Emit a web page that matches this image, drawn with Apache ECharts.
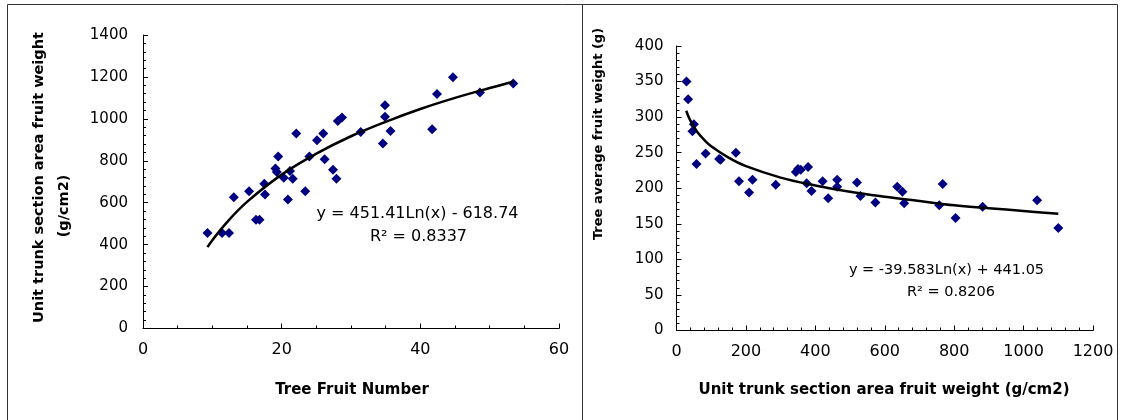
<!DOCTYPE html>
<html><head><meta charset="utf-8">
<script src="https://cdn.jsdelivr.net/npm/echarts@6/dist/echarts.min.js"></script>
<style>html,body{margin:0;padding:0;background:#fff}#c{width:1121px;height:420px}</style>
</head><body><div id="c"></div>
<script>
// Left chart: Tree Fruit Number vs unit trunk section area fruit weight
const leftX = [9.3,11.4,12.4,13.1,15.3,16.3,16.8,17.5,17.6,19.5,19.1,19.3,20.3,21.2,21.6,20.9,22.1,23.4,24.0,25.1,26.0,26.2,27.4,27.9,28.1,28.7,31.4,34.9,34.9,35.7,34.6,41.7,42.4,44.7,48.6,53.4];
const leftY = [455,455,455,626,655,519,519,690,639,821,763,746,719,751,714,615,930,655,821,898,930,807,757,714,990,1006,937,1065,1010,942,883,950,1118,1199,1126,1169];
const leftTrendX = [9.3,10,12,15,20,25,30,35,40,45,50,53.4];
const leftTrendY = [388,421,503,604,734,834,917,986,1047,1100,1147,1177];
// Right chart: unit trunk section area fruit weight vs tree average fruit weight
const rightX = [28.8,33.5,50,46,57.6,84,123,127,171,180,209,219,286,344,350,358,379,375,389,421,437,463,463,520,530,573,636,651,656,767,757,804,882,1039,1100];
const rightY = [350,325,290,280,234,249,241,240,250,210,194,212,205,223,227,226,230,207,196,210,186,212,202,208,189,180,202,195,179,206,176,158,174,183,144];
const rightTrendX = [28,40,60,80,100,150,200,300,400,500,600,700,800,900,1000,1100];
const rightTrendY = [309,295,279,268,259,243,231,215,204,195,188,182,176,172,168,164];

const leftXTitle = 'Tree Fruit Number';
const leftYTitle1 = 'Unit trunk section area fruit weight';
const leftYTitle2 = '(g/cm2)';
const rightXTitle = 'Unit trunk section area fruit weight (g/cm2)';
const rightYTitle = 'Tree average fruit weight (g)';
const leftEq = 'y = 451.41Ln(x) - 618.74';
const leftR2 = 'R² = 0.8337';
const rightEq = 'y = -39.583Ln(x) + 441.05';
const rightR2 = 'R² = 0.8206';

const FONT = 'DejaVu Sans';
const zip = (a, b) => a.map((v, i) => [v, b[i]]);

function axis(gridIndex, min, max, interval, minorSplit, fontSize, margin) {
  return {
    type: 'value', gridIndex, min, max, interval,
    axisLine: { show: true, onZero: false, lineStyle: { color: '#000', width: 1 } },
    axisTick: { show: true, inside: true, length: 5, lineStyle: { color: '#000' } },
    minorTick: { show: true, splitNumber: minorSplit, length: 3, lineStyle: { color: '#000' } },
    splitLine: { show: false },
    axisLabel: { color: '#000', fontFamily: FONT, fontSize, margin, formatter: v => String(v) }
  };
}

const titleStyle = (text, size) => ({ text, font: 'bold ' + size + 'px "' + FONT + '"', fill: '#000', textAlign: 'center', textVerticalAlign: 'middle' });
const plainStyle = (text, size) => ({ text, font: size + 'px "' + FONT + '"', fill: '#000', textAlign: 'center', textVerticalAlign: 'middle' });

const chart = echarts.init(document.getElementById('c'), null, { renderer: 'canvas' });
chart.setOption({
  backgroundColor: '#fff',
  animation: false,
  grid: [
    { left: 143, top: 35, width: 416, height: 293.5 },
    { left: 676.5, top: 46, width: 416.5, height: 284.5 }
  ],
  xAxis: [
    axis(0, 0, 60, 20, 4, 16, 13),
    axis(1, 0, 1200, 200, 5, 16, 13)
  ],
  yAxis: [
    axis(0, 0, 1400, 200, 5, 15, 15),
    axis(1, 0, 400, 50, 5, 15, 13)
  ],
  series: [
    { type: 'scatter', xAxisIndex: 0, yAxisIndex: 0, data: zip(leftX, leftY), symbol: 'diamond', symbolSize: 10, itemStyle: { color: '#000080', opacity: 1 }, z: 3 },
    { type: 'line', xAxisIndex: 0, yAxisIndex: 0, data: zip(leftTrendX, leftTrendY), smooth: 0.4, showSymbol: false, lineStyle: { color: '#000', width: 2.5 }, z: 4 },
    { type: 'scatter', xAxisIndex: 1, yAxisIndex: 1, data: zip(rightX, rightY), symbol: 'diamond', symbolSize: 10, itemStyle: { color: '#000080', opacity: 1 }, z: 3 },
    { type: 'line', xAxisIndex: 1, yAxisIndex: 1, data: zip(rightTrendX, rightTrendY), smooth: 0.4, showSymbol: false, lineStyle: { color: '#000', width: 2.5 }, z: 4 }
  ],
  graphic: [
    { type: 'polyline', shape: { points: [[7.5, 420], [7.5, 4.5], [1117.5, 4.5], [1117.5, 420]] }, style: { stroke: '#333', lineWidth: 1, fill: null } },
    { type: 'line', shape: { x1: 582.5, y1: 4.5, x2: 582.5, y2: 420 }, style: { stroke: '#333', lineWidth: 1 } },
    { type: 'text', x: 39, y: 177.5, rotation: Math.PI / 2, style: titleStyle(leftYTitle1, 14.5) },
    { type: 'text', x: 64.5, y: 206, rotation: Math.PI / 2, style: titleStyle(leftYTitle2, 14.5) },
    { type: 'text', x: 599, y: 134, rotation: Math.PI / 2, style: titleStyle(rightYTitle, 13) },
    { type: 'text', x: 352, y: 390, style: titleStyle(leftXTitle, 15) },
    { type: 'text', x: 884, y: 390, style: titleStyle(rightXTitle, 15) },
    { type: 'text', x: 417.5, y: 213.5, style: plainStyle(leftEq, 16) },
    { type: 'text', x: 418.5, y: 237, style: plainStyle(leftR2, 16) },
    { type: 'text', x: 946.5, y: 270, style: plainStyle(rightEq, 14.5) },
    { type: 'text', x: 951, y: 292, style: plainStyle(rightR2, 14.5) }
  ]
});
</script></body></html>
